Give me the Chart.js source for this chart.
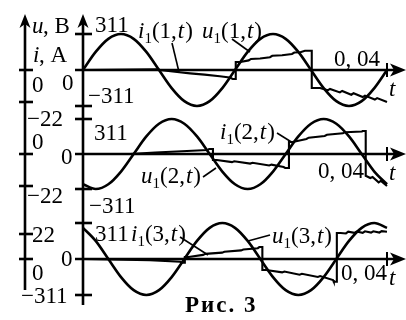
<!DOCTYPE html>
<html>
<head>
<meta charset="utf-8">
<script src="https://cdn.jsdelivr.net/npm/chart.js@4.4.0/dist/chart.umd.min.js"></script>
<style>
  html, body { margin: 0; padding: 0; background: #fff; }
</style>
</head>
<body>
<canvas id="myChart" width="406" height="320"></canvas>
<script>
// voltage samples, every 1/12 of a 50 Hz period (s)
const tU = [0, 0.001667, 0.003333, 0.005, 0.006667, 0.008333, 0.01, 0.011667, 0.013333, 0.015, 0.016667, 0.018333,
  0.02, 0.021667, 0.023333, 0.025, 0.026667, 0.028333, 0.03, 0.031667, 0.033333, 0.035, 0.036667, 0.038333, 0.04];
const u1 = [0, 156, 269, 311, 269, 156, 0, -156, -269, -311, -269, -156,
  0, 156, 269, 311, 269, 156, 0, -156, -269, -311, -269, -156, 0];
const u2 = [-269, -311, -269, -156, 0, 156, 269, 311, 269, 156, 0, -156,
  -269, -311, -269, -156, 0, 156, 269, 311, 269, 156, 0, -156, -269];
const u3 = [269, 156, 0, -156, -269, -311, -269, -156, 0, 156, 269, 311,
  269, 156, 0, -156, -269, -311, -269, -156, 0, 156, 269, 311, 269];

// currents i1(n,t), A
const tI1 = [0, 0.0099, 0.0101, 0.0121, 0.0141, 0.016, 0.018, 0.0193, 0.0197, 0.0201, 0.0201, 0.0207, 0.0218, 0.0221,
  0.0233, 0.0246, 0.0249, 0.0262, 0.0275, 0.0278, 0.0286, 0.0292, 0.0301, 0.0301, 0.0312, 0.0322, 0.0325, 0.0338,
  0.0341, 0.0353, 0.0356, 0.0368, 0.0371, 0.0384, 0.0387, 0.04];
const i1 = [0, 0.4, 0, -1.2, -2.3, -3.2, -4.3, -5.2, -6.2, -6.2, 5.5, 5.5, 6.6, 7.6,
  7.9, 8.8, 9.8, 10.1, 11, 12, 12.2, 13.2, 13.2, -12.4, -12.4, -14, -13, -15.4,
  -14.4, -17, -16, -18.6, -17.6, -20.3, -19.3, -22];
const tI2 = [0, 0.0062, 0.0095, 0.013, 0.0164, 0.0166, 0.0171, 0.0171, 0.0176, 0.0196, 0.0199, 0.022, 0.0223, 0.0245,
  0.0248, 0.0264, 0.0266, 0.0271, 0.0271, 0.0276, 0.0294, 0.0297, 0.0318, 0.0321, 0.0342, 0.0345, 0.0367, 0.0368,
  0.0372, 0.0372, 0.0378, 0.0381, 0.0389, 0.0392, 0.04];
const i2 = [0, 0, 1, 1.9, 2.8, 3.4, 3.4, -4.1, -4.1, -5.6, -5, -6.6, -6, -7.9,
  -7.3, -9, -9.6, -9.6, 8.3, 8.3, 10.3, 11.2, 12.4, 13.2, 14.2, 15, 15.5, 15.8,
  15.8, -15, -16.5, -15.8, -19.5, -18.5, -22];
const tI3 = [0, 0.0088, 0.0128, 0.0129, 0.0134, 0.0134, 0.0139, 0.0158, 0.0161, 0.0183, 0.0186, 0.0208, 0.0211, 0.023,
  0.0232, 0.0236, 0.0236, 0.0241, 0.0262, 0.0265, 0.0285, 0.0288, 0.0309, 0.0312, 0.0329, 0.033, 0.0334, 0.0334,
  0.0339, 0.0346, 0.0349, 0.0357, 0.036, 0.0368, 0.0371, 0.0379, 0.0382, 0.039, 0.0393, 0.04];
const i3 = [0, -1, -2.4, -3.3, -3.3, 1.8, 1.8, 3.6, 4.5, 5.6, 6.4, 7.6, 8.4, 9.5,
  10.5, 10.5, -9.7, -9.7, -11.8, -11, -13.8, -13, -15.8, -15, -18.5, -20, -20, 22.9,
  22.9, 22.5, 24, 23, 24.2, 23, 24.4, 23.2, 24.4, 23.3, 24.5, 24];

// axis ticks
const uTicks = [311, 0, -311];
const iTicks = [[0, -22], [0, -22], [22, 0]];
const tEnd = 0.04;
const names = ["1", "2", "3"];

// placement of each panel (pixels)
const panels = [
  { zero: 70, uPx: 36, iPx: 32,
    uLab: [[95, 32], [62, 90], [88, 103]], iLab: [[32, 92], [27, 126]],
    tLab: [334, 66], iName: [138, 38, 172, 43, 179, 72], uName: [202, 38, 232, 39, 250, 52] },
  { zero: 154, uPx: 35, iPx: 32,
    uLab: [[94, 140], [61, 164], [89, 213]], iLab: [[32, 149], [27, 203]],
    tLab: [318, 178], iName: [220, 139, 277, 133, 293, 143], uName: [141, 183, 203, 177, 216, 168] },
  { zero: 259, uPx: 36, iPx: 25,
    uLab: [[95, 241], [61, 266], [21, 303]], iLab: [[32, 242], [32, 280]],
    tLab: [341, 280], iName: [131, 241, 180, 237, 208, 255], uName: [272, 243, 270, 235, 248, 241] }
];

const H = 320;
const SERIF = '"Liberation Serif", "Times New Roman", serif';
const F = "23px " + SERIF;
const FI = "italic 23px " + SERIF;
const uSeries = [u1, u2, u3];
const tISeries = [tI1, tI2, tI3];
const iSeries = [i1, i2, i3];

const scales = { x: { type: "linear", min: 0, max: tEnd, display: false } };
const datasets = [];
panels.forEach((p, n) => {
  const kU = p.uPx / 311;
  const kI = p.iPx / 22;
  scales["u" + n] = { type: "linear", axis: "y", display: false, min: -(H - p.zero) / kU, max: p.zero / kU };
  scales["i" + n] = { type: "linear", axis: "y", display: false, min: -(H - p.zero) / kI, max: p.zero / kI };
  datasets.push({
    data: tU.map((t, k) => ({ x: t, y: uSeries[n][k] })),
    yAxisID: "u" + n, borderColor: "#000", borderWidth: 2.6,
    pointRadius: 0, cubicInterpolationMode: "monotone", clip: false
  });
  datasets.push({
    data: tISeries[n].map((t, k) => ({ x: t, y: iSeries[n][k] })),
    yAxisID: "i" + n, borderColor: "#000", borderWidth: 2.1,
    pointRadius: 0, tension: 0, clip: false
  });
});

function fmt(v) { return String(v).replace("-", "\u2212"); }

function put(ctx, s, x, y, font) {
  ctx.font = font;
  ctx.fillText(s, x, y);
  return x + ctx.measureText(s).width;
}

// draws e.g. i1(2,t) with subscript
function funcName(ctx, x, y, letter, n) {
  x = put(ctx, letter, x, y, FI);
  x = put(ctx, "1", x, y + 5, "15px " + SERIF);
  x = put(ctx, "(" + n + ",", x, y, F);
  x = put(ctx, "t", x + 1, y, FI);
  put(ctx, ")", x + 1, y, F);
}

function line(ctx, x1, y1, x2, y2, w) {
  ctx.lineWidth = w;
  ctx.beginPath();
  ctx.moveTo(x1, y1);
  ctx.lineTo(x2, y2);
  ctx.stroke();
}

function arrowUp(ctx, x, y) {
  ctx.beginPath();
  ctx.moveTo(x, y);
  ctx.lineTo(x - 5.5, y + 14);
  ctx.lineTo(x, y + 10);
  ctx.lineTo(x + 5.5, y + 14);
  ctx.closePath();
  ctx.fill();
}

function arrowRight(ctx, x, y) {
  ctx.beginPath();
  ctx.moveTo(x, y);
  ctx.lineTo(x - 16, y - 6.5);
  ctx.lineTo(x - 12, y);
  ctx.lineTo(x - 16, y + 6.5);
  ctx.closePath();
  ctx.fill();
}

const axesPlugin = {
  id: "axes",
  afterDraw(chart) {
    const ctx = chart.ctx;
    const xs = chart.scales.x;
    const ax = xs.getPixelForValue(0);
    const iAx = 25;
    ctx.save();
    ctx.strokeStyle = "#000";
    ctx.fillStyle = "#000";
    ctx.textBaseline = "alphabetic";

    // vertical axes
    line(ctx, iAx, 290, iAx, 20, 2.6);
    arrowUp(ctx, iAx, 14);
    line(ctx, ax, 305, ax, 20, 2.6);
    arrowUp(ctx, ax, 14);
    put(ctx, "u", 32, 33, FI);
    put(ctx, ", B", 43, 33, F);
    put(ctx, "i", 33, 62, FI);
    put(ctx, ", A", 39, 62, F);

    panels.forEach((p, n) => {
      const us = chart.scales["u" + n];
      const is = chart.scales["i" + n];
      const y0 = us.getPixelForValue(0);
      // time axis
      line(ctx, ax - 8, y0, 395, y0, 2.6);
      arrowRight(ctx, 406, y0);
      const xe = xs.getPixelForValue(tEnd);
      line(ctx, xe, y0 - 7, xe, y0 + 7, 2);
      put(ctx, String(tEnd).replace(".", ", "), p.tLab[0], p.tLab[1], F);
      put(ctx, "t", 389, y0 + 26, FI);

      // u ticks and labels
      uTicks.forEach((v, k) => {
        const y = us.getPixelForValue(v);
        if (v !== 0) line(ctx, ax - 8, y, ax + 9, y, 2.6);
        put(ctx, fmt(v), p.uLab[k][0], p.uLab[k][1], F);
      });
      // i ticks and labels
      iTicks[n].forEach((v, k) => {
        const y = is.getPixelForValue(v);
        line(ctx, iAx - 6, y, iAx + 8, y, 2.6);
        put(ctx, fmt(v), p.iLab[k][0], p.iLab[k][1], F);
      });

      // curve names with leader lines
      funcName(ctx, p.iName[0], p.iName[1], "i", names[n]);
      line(ctx, p.iName[2], p.iName[3], p.iName[4], p.iName[5], 1.6);
      funcName(ctx, p.uName[0], p.uName[1], "u", names[n]);
      line(ctx, p.uName[2], p.uName[3], p.uName[4], p.uName[5], 1.6);
    });

    ctx.letterSpacing = "2px";
    put(ctx, "Рис. 3", 185, 312, "bold 23px " + SERIF);
    ctx.restore();
  }
};

new Chart(document.getElementById("myChart"), {
  type: "line",
  data: { datasets: datasets },
  options: {
    responsive: false,
    animation: false,
    layout: { padding: { left: 83, right: 19, top: 0, bottom: 0 } },
    plugins: { legend: { display: false }, tooltip: { enabled: false } },
    scales: scales
  },
  plugins: [axesPlugin]
});
</script>
</body>
</html>
